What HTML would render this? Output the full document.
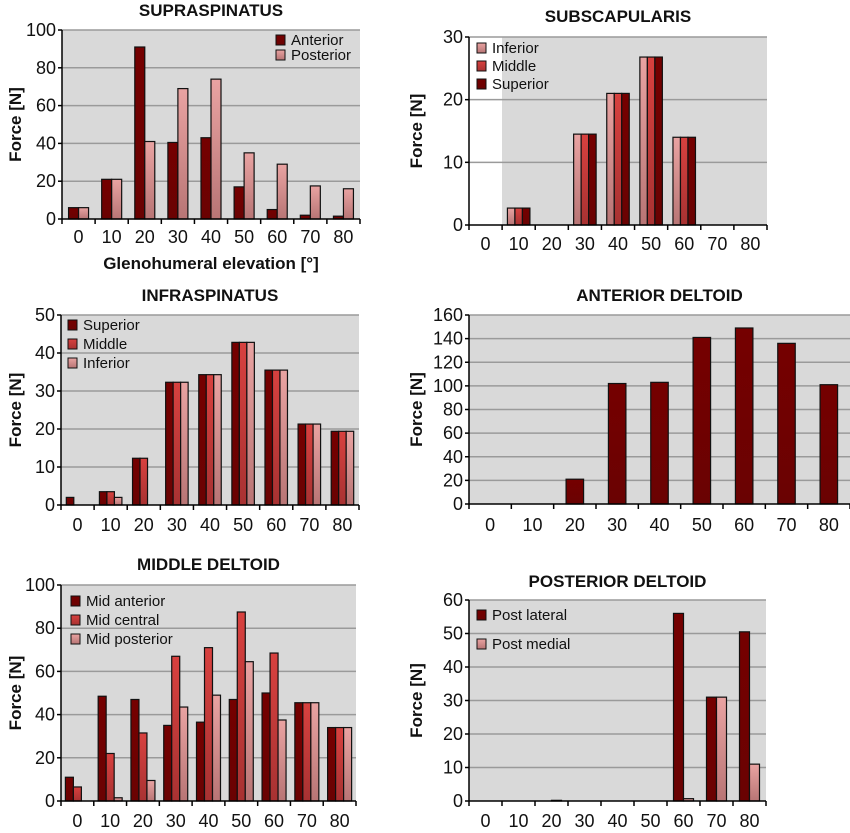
<!DOCTYPE html>
<html><head><meta charset="utf-8"><style>
body{margin:0;background:#fff;width:850px;height:833px;overflow:hidden}
svg{display:block}
text{font-family:"Liberation Sans",Arial,sans-serif;fill:#111}
</style></head><body>
<svg id="s" width="850" height="833" xmlns="http://www.w3.org/2000/svg">
<defs>
<linearGradient id="gD" x1="0" y1="0" x2="0" y2="1"><stop offset="0" stop-color="#750000"/><stop offset="1" stop-color="#6a0202"/></linearGradient>
<linearGradient id="gM" x1="0" y1="0" x2="0" y2="1"><stop offset="0" stop-color="#d8413f"/><stop offset="1" stop-color="#a83232"/></linearGradient>
<linearGradient id="gL" x1="0" y1="0" x2="0" y2="1"><stop offset="0" stop-color="#e9a3a2"/><stop offset="1" stop-color="#b87575"/></linearGradient>
</defs>
</svg>
<script>
const S=document.getElementById('s');const NS='http://www.w3.org/2000/svg';
function el(t,a,txt){const e=document.createElementNS(NS,t);for(const k in a)e.setAttribute(k,a[k]);if(txt!==undefined)e.textContent=txt;S.appendChild(e);return e;}
const C={D:'url(#gD)',M:'url(#gM)',L:'url(#gL)'};
const cats=[0,10,20,30,40,50,60,70,80];
function panel(o){
 const {x0,x1,yt,yb,max,step,title,ty,series,bw,bgx,legend,lx,ly,lgap,fx,ly2}=o;
 const cw=(x1-x0)/9;
 el('rect',{x:bgx||x0,y:yt,width:x1-(bgx||x0),height:yb-yt,fill:'#d9d9d9'});
 for(let v=0;v<=max;v+=step){const y=yb-(v/max)*(yb-yt);
  if(v>0)el('line',{x1:x0,x2:x1,y1:y,y2:y,stroke:'#9a9a9a','stroke-width':1.5});
  el('line',{x1:x0-4,x2:x0,y1:y,y2:y,stroke:'#000','stroke-width':1.5});
  el('text',{x:x0-6,y:y+6,'text-anchor':'end','font-size':18},v);}
 const n=series.length;
 cats.forEach((c,i)=>{const cx=x0+cw*(i+0.5);const gx=cx-n*bw/2;
  series.forEach((s,j)=>{const v=s.d[i];if(v<=0)return;const h=v/max*(yb-yt);
   el('rect',{x:gx+j*bw,y:yb-h,width:bw,height:h,fill:C[s.c],stroke:'#111','stroke-width':1.2});});
  el('text',{x:cx,y:ly2,'text-anchor':'middle','font-size':18},c);
  el('line',{x1:x0+cw*i,x2:x0+cw*i,y1:yb,y2:yb+5,stroke:'#000','stroke-width':1.5});});
 el('line',{x1:x1,x2:x1,y1:yb,y2:yb+5,stroke:'#000','stroke-width':1.5});
 el('line',{x1:x0,x2:x1,y1:yb,y2:yb,stroke:'#000','stroke-width':1.5});
 el('line',{x1:x0,x2:x0,y1:yt,y2:yb,stroke:'#000','stroke-width':1.5});
 el('text',{x:(x0+x1)/2,y:ty,'text-anchor':'middle','font-size':17,'font-weight':'bold'},title);
 el('text',{x:0,y:0,transform:`translate(${fx},${(yt+yb)/2}) rotate(-90)`,'text-anchor':'middle','font-size':17,'font-weight':'bold'},'Force [N]');
 if(legend)series.forEach((s,j)=>{const y=ly+j*lgap;
  el('rect',{x:lx,y:y-9,width:9,height:10,fill:C[s.c],stroke:'#111','stroke-width':1});
  el('text',{x:lx+15,y:y+1,'font-size':15},s.n);});
}
panel({x0:62,x1:360,yt:30,yb:219,max:100,step:20,title:'SUPRASPINATUS',ty:16,bw:10,ly2:243,fx:21,
 legend:1,lx:276,ly:44,lgap:15,
 series:[{n:'Anterior',c:'D',d:[6,21,91,40.5,43,17,5,2,1.5]},{n:'Posterior',c:'L',d:[6,21,41,69,74,35,29,17.5,16]}]});
el('text',{x:211,y:269,'text-anchor':'middle','font-size':17,'font-weight':'bold'},'Glenohumeral elevation [°]');
const sub=[0,2.7,0,14.5,21,26.8,14,0,0];
panel({x0:469,x1:767,yt:37,yb:225,max:30,step:10,title:'SUBSCAPULARIS',ty:22,bw:7.5,bgx:502,ly2:250,fx:422,
 legend:1,lx:477,ly:52,lgap:18,
 series:[{n:'Inferior',c:'L',d:sub},{n:'Middle',c:'M',d:sub},{n:'Superior',c:'D',d:sub}]});
panel({x0:61,x1:359,yt:315,yb:505,max:50,step:10,title:'INFRASPINATUS',ty:301,bw:7.5,ly2:531,fx:21,
 legend:1,lx:68,ly:329,lgap:19,
 series:[{n:'Superior',c:'D',d:[2,3.5,12.3,32.3,34.3,42.8,35.5,21.3,19.4]},
 {n:'Middle',c:'M',d:[0,3.5,12.3,32.3,34.3,42.8,35.5,21.3,19.4]},
 {n:'Inferior',c:'L',d:[0,2,0,32.3,34.3,42.8,35.5,21.3,19.4]}]});
panel({x0:469,x1:850,yt:315,yb:504,max:160,step:20,title:'ANTERIOR DELTOID',ty:301,bw:17.5,ly2:531,fx:422,
 series:[{n:'',c:'D',d:[0,0,21,102,103,141,149,136,101]}]});
panel({x0:61,x1:356,yt:585,yb:801,max:100,step:20,title:'MIDDLE DELTOID',ty:570,bw:8,ly2:827,fx:21,
 legend:1,lx:71,ly:605,lgap:19,
 series:[{n:'Mid anterior',c:'D',d:[11,48.5,47,35,36.5,47,50,45.5,34]},
 {n:'Mid central',c:'M',d:[6.5,22,31.5,67,71,87.5,68.5,45.5,34]},
 {n:'Mid posterior',c:'L',d:[0,1.5,9.5,43.5,49,64.5,37.5,45.5,34]}]});
panel({x0:469,x1:766,yt:600,yb:801,max:60,step:10,title:'POSTERIOR DELTOID',ty:587,bw:10,ly2:827,fx:422,
 legend:1,lx:477,ly:619,lgap:29,
 series:[{n:'Post lateral',c:'D',d:[0,0,0,0,0,0,56,31,50.5]},{n:'Post medial',c:'L',d:[0,0,0.2,0,0,0,0.7,31,11]}]});
</script>
</body></html>
